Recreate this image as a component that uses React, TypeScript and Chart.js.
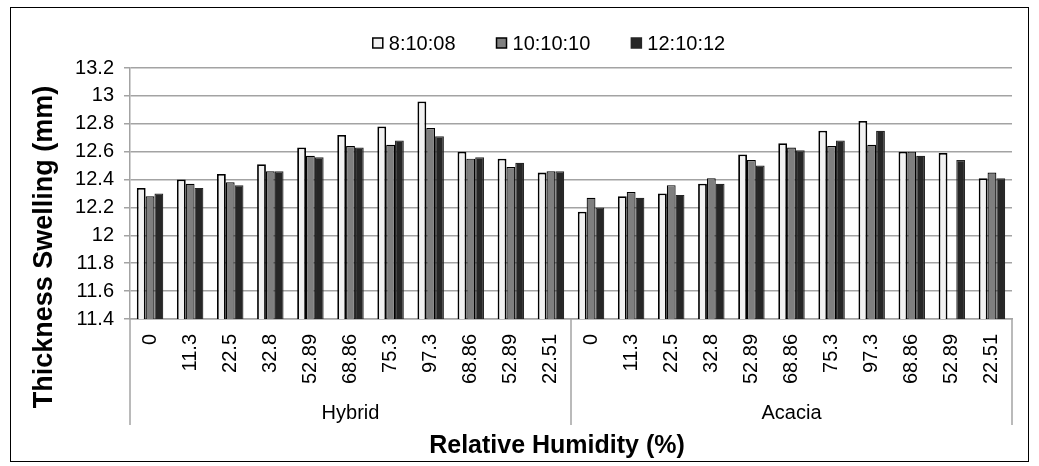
import React, { useEffect, useRef } from 'react';
import { Chart, registerables } from 'chart.js';

Chart.register(...registerables);

const humidity = ['0', '11.3', '22.5', '32.8', '52.89', '68.86', '75.3', '97.3', '68.86', '52.89', '22.51'];
const species = ['Hybrid', 'Acacia'];
const categories = [...humidity, ...humidity];
const seriesNames = ['8:10:08', '10:10:10', '12:10:12'];
const ratio81008 = [12.34, 12.40, 12.44, 12.51, 12.63, 12.72, 12.78, 12.96, 12.60, 12.55, 12.45,
  12.17, 12.28, 12.30, 12.37, 12.58, 12.66, 12.75, 12.82, 12.60, 12.59, 12.41];
const ratio101010 = [12.28, 12.37, 12.38, 12.46, 12.57, 12.64, 12.65, 12.77, 12.55, 12.49, 12.46,
  12.27, 12.31, 12.36, 12.41, 12.54, 12.63, 12.64, 12.65, 12.60, 11.4, 12.45];
const ratio121012 = [12.30, 12.34, 12.36, 12.46, 12.56, 12.63, 12.68, 12.71, 12.56, 12.52, 12.46,
  12.20, 12.27, 12.29, 12.37, 12.50, 12.61, 12.68, 12.75, 12.57, 12.54, 12.41];
const yTicks = { min: 11.4, max: 13.2, step: 0.2 };
const xTitle = 'Relative Humidity (%)';
const yTitle = 'Thickness Swelling (mm)';

const fills = ['#f2f2f2', '#7f7f7f', '#262626'];
const FONT = "'Liberation Sans', Arial, sans-serif";
const GRID = '#a3a3a3';

const decorPlugin = {
  id: 'decor',
  afterDraw(chart: any) {
    const { ctx, chartArea } = chart;
    const x = chart.scales.x;
    const bottomLine = 425;
    ctx.save();
    const mid = (x.getPixelForValue(humidity.length - 1) + x.getPixelForValue(humidity.length)) / 2;
    const seps = [chartArea.left, mid, chartArea.right];
    ctx.strokeStyle = GRID;
    ctx.lineWidth = 1.5;
    seps.forEach((sx) => {
      ctx.beginPath();
      ctx.moveTo(sx, chartArea.bottom);
      ctx.lineTo(sx, bottomLine);
      ctx.stroke();
    });
    ctx.fillStyle = '#000';
    ctx.font = `20px ${FONT}`;
    ctx.textAlign = 'center';
    ctx.textBaseline = 'middle';
    species.forEach((name, i) => {
      ctx.fillText(name, (seps[i] + seps[i + 1]) / 2, 413);
    });
    // axis titles
    ctx.font = `bold 25px ${FONT}`;
    ctx.textBaseline = 'alphabetic';
    ctx.fillText(xTitle, 557, 453);
    ctx.save();
    ctx.translate(52, 247);
    ctx.rotate(-Math.PI / 2);
    ctx.font = `bold 27px ${FONT}`;
    ctx.fillText(yTitle, 0, 0);
    ctx.restore();
    // legend
    const box = 10;
    const gap = 6;
    const itemGap = 41;
    ctx.font = `20px ${FONT}`;
    const widths = seriesNames.map((n) => box + gap + ctx.measureText(n).width);
    const total = widths.reduce((a, b) => a + b, 0) + itemGap * (seriesNames.length - 1);
    let lx = 549 - total / 2;
    const ly = 43;
    ctx.textAlign = 'left';
    ctx.textBaseline = 'middle';
    seriesNames.forEach((n, i) => {
      ctx.fillStyle = fills[i];
      ctx.fillRect(lx, ly - box / 2, box, box);
      ctx.strokeStyle = i === 2 ? fills[2] : '#000';
      ctx.lineWidth = 1.5;
      ctx.strokeRect(lx, ly - box / 2, box, box);
      ctx.fillStyle = '#000';
      ctx.fillText(n, lx + box + gap, ly + 1);
      lx += widths[i] + itemGap;
    });
    ctx.restore();
  },
};

export default function App() {
  const ref = useRef<HTMLCanvasElement>(null);
  useEffect(() => {
    const series = [ratio81008, ratio101010, ratio121012];
    const chart = new Chart(ref.current!, {
      type: 'bar',
      data: {
        labels: categories,
        datasets: series.map((d, i) => ({
          label: seriesNames[i],
          data: d,
          backgroundColor: fills[i],
          borderColor: i === 2 ? '#262626' : '#000',
          borderWidth: i === 0 ? 1.8 : 1.2,
          borderSkipped: 'bottom',
          categoryPercentage: 0.66,
          barPercentage: 1,
        })),
      },
      options: {
        responsive: false,
        animation: false,
        devicePixelRatio: 1,
        layout: { padding: { left: 24, right: 27, top: 68, bottom: 0 } },
        plugins: { legend: { display: false }, tooltip: { enabled: false } },
        scales: {
          x: {
            grid: { display: false },
            border: { display: true, color: GRID, width: 1.5 },
            ticks: {
              autoSkip: false,
              maxRotation: 90,
              minRotation: 90,
              padding: 7,
              color: '#000',
              font: { family: FONT, size: 20 },
            },
            afterFit: (scale: any) => { scale.height = 147; },
          },
          y: {
            min: yTicks.min,
            max: yTicks.max,
            grid: { color: GRID, lineWidth: 1.5, tickLength: 6, drawTicks: true },
            border: { display: true, color: GRID, width: 1.5 },
            ticks: {
              stepSize: yTicks.step,
              padding: 10,
              color: '#000',
              font: { family: FONT, size: 20 },
              callback: (v: any) => String(Number(Number(v).toFixed(1))),
            },
            afterFit: (scale: any) => { scale.width = 106; },
          },
        },
      },
      plugins: [decorPlugin],
    });
    return () => chart.destroy();
  }, []);
  return (
    <div style={{ position: 'absolute', left: 0, top: 0, width: 1039, height: 466, background: '#fff' }}>
      <div style={{ position: 'absolute', left: 10, top: 7, width: 1019, height: 455, border: '1.5px solid #000', boxSizing: 'border-box' }} />
      <canvas ref={ref} width={1039} height={466} style={{ position: 'absolute', left: 0, top: 0 }} />
    </div>
  );
}
